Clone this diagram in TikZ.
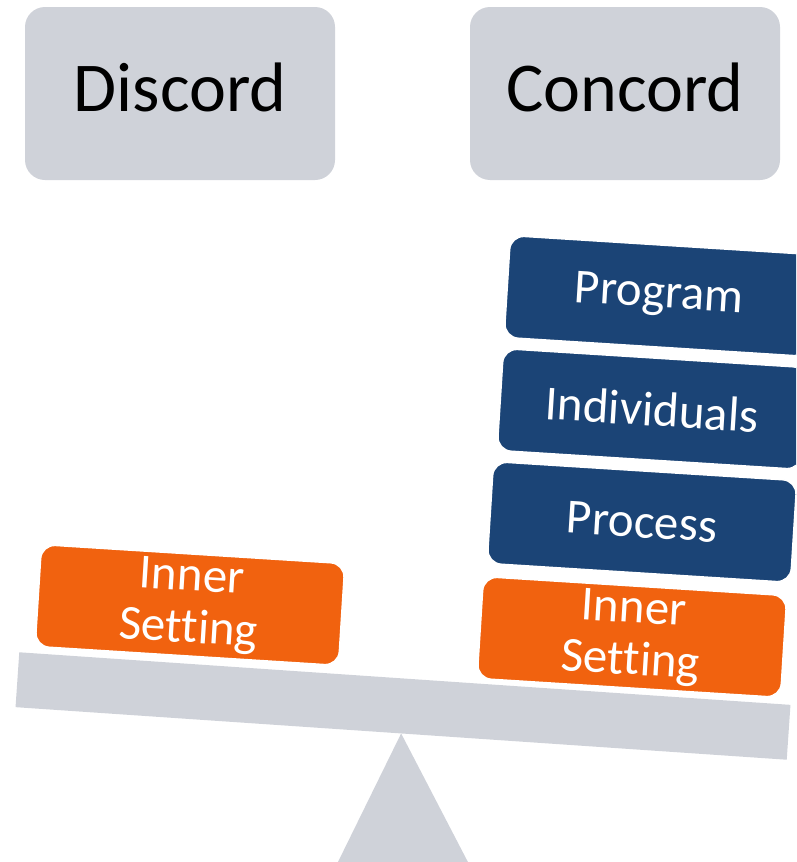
\documentclass[tikz,border=0pt]{standalone}
\usepackage{fontspec}
\setmainfont[Ligatures=NoCommon]{Carlito}
\usetikzlibrary{calc}
\definecolor{barColor}{HTML}{CFD2D9}
\definecolor{innColor}{HTML}{F1620F}
\definecolor{domColor}{HTML}{1B4476}

\begin{document}
\begin{tikzpicture}[x=1pt,y=-1pt,
	headbox/.style={fill=barColor, rounded corners=20pt, outer sep=0,
		minimum width=310pt, minimum height=173pt, text depth=12pt,
		font=\fontsize{70}{80}\selectfont},
	weight/.style={draw=white, line width=1.5pt, rounded corners=14pt,
		text=white, align=center, outer sep=0, rotate=-3.6,
		minimum width=304pt, minimum height=102pt,
		font=\fontsize{49}{52}\selectfont}]
	\useasboundingbox (0,0) rectangle (796,862);
	\clip (0,0) rectangle (796,862);
	
	\node[headbox] (d1) at (180,93.5) {Discord};
	\node[headbox] (c1) at (625,93.5) {Concord};
	
	\node[fill=barColor, inner sep=0, outer sep=0, rotate=-3.9,
		minimum width=773pt, minimum height=55pt] (beam) at (403,706) {};
	\fill[barColor] (beam.south) -- (336,866) -- (470,866) -- cycle;
	
	\node[weight, fill=innColor] (w1) at (190,605) {Inner\\Setting};
	\node[weight, fill=innColor] (w2) at (632,637) {Inner\\Setting};
	\node[weight, fill=domColor] (w3) at (642,522) {Process};
	\node[weight, fill=domColor] (w4) at (652,409) {Individuals};
	\node[weight, fill=domColor] (w5) at (659,296) {Program};
\end{tikzpicture}
\end{document}
